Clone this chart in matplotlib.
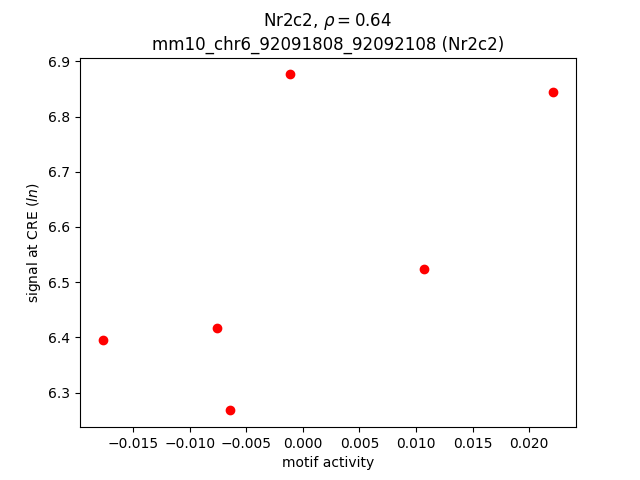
import matplotlib
matplotlib.use("Agg")
import matplotlib.pyplot as plt

motif_activity = [-0.01772, -0.00762, -0.00647, -0.00115, 0.01072, 0.02215]
cre_signal = [6.3946, 6.4163, 6.2678, 6.8764, 6.5232, 6.8438]

fig, ax = plt.subplots(figsize=(6.4, 4.8), dpi=100)
ax.scatter(motif_activity, cre_signal, color="red")
ax.set_title("Nr2c2, $\\rho = 0.64$\nmm10_chr6_92091808_92092108 (Nr2c2)")
ax.set_xlabel("motif activity")
ax.set_ylabel("signal at CRE ($ln$)")
fig.savefig("out.png")
